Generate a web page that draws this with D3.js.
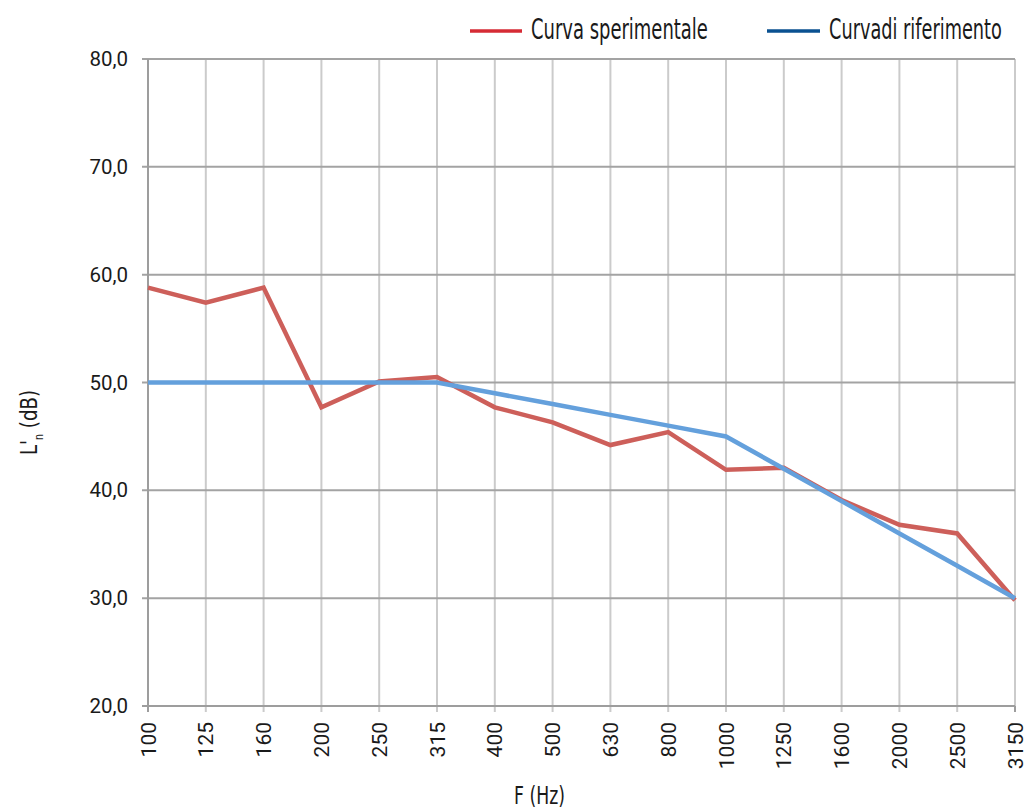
<!DOCTYPE html>
<html><head><meta charset="utf-8">
<script src="https://cdn.jsdelivr.net/npm/d3@7"></script>
<style>body{margin:0;background:#fff}svg{display:block}</style>
</head><body>
<script>
const categories = ["100","125","160","200","250","315","400","500","630","800","1000","1250","1600","2000","2500","3150"];
const sperimentale = [58.8,57.4,58.8,47.7,50.1,50.5,47.7,46.3,44.2,45.4,41.9,42.1,39.1,36.8,36.0,29.8];
const riferimento = [50,50,50,50,50,50,49,48,47,46,45,42,39,36,33,30];
const yTicks = [20,30,40,50,60,70,80];
const seriesNames = ["Curva sperimentale","Curvadi riferimento"];

const W=1029,H=812;
const m={l:148,r:1015,t:59,b:706};
const svg=d3.select("body").append("svg").attr("width",W).attr("height",H);
const x=d3.scalePoint().domain(categories).range([m.l,m.r]);
const y=d3.scaleLinear().domain([20,80]).range([m.b,m.t]);

// vertical grid
svg.append("g").selectAll("line").data(categories.slice(1)).join("line")
 .attr("x1",d=>x(d)).attr("x2",d=>x(d)).attr("y1",m.t).attr("y2",m.b+6)
 .attr("stroke","#cbcbcb").attr("stroke-width",2);
// horizontal grid
svg.append("g").selectAll("line").data(yTicks.slice(1)).join("line")
 .attr("x1",m.l-6).attr("x2",m.r).attr("y1",d=>y(d)).attr("y2",d=>y(d))
 .attr("stroke","#a3a3a3").attr("stroke-width",2);
// axes
svg.append("line").attr("x1",m.l).attr("x2",m.l).attr("y1",m.t).attr("y2",m.b+6).attr("stroke","#9d9d9d").attr("stroke-width",2);
svg.append("line").attr("x1",m.l-6).attr("x2",m.r).attr("y1",m.b).attr("y2",m.b).attr("stroke","#9d9d9d").attr("stroke-width",2);
svg.append("line").attr("x1",m.r).attr("x2",m.r).attr("y1",m.b).attr("y2",m.b+6).attr("stroke","#9d9d9d").attr("stroke-width",2);

// y tick labels
svg.append("g").selectAll("text").data(yTicks).join("text")
 .attr("x",128).attr("y",d=>y(d)+7).attr("text-anchor","end")
 .attr("font-family","Roboto").attr("font-size",20.5).attr("fill","#1a1a1a")
 .text(d=>d3.format(".1f")(d).replace(".",","));
// x tick labels
svg.append("g").selectAll("text").data(categories).join("text")
 .attr("transform",d=>`translate(${x(d)+7.5},722) rotate(-90)`)
 .attr("text-anchor","end").attr("font-family","Roboto").attr("font-size",21).attr("fill","#1a1a1a")
 .text(d=>d);

const line=d3.line().x((d,i)=>x(categories[i])).y(d=>y(d));
svg.append("path").datum(sperimentale).attr("d",line).attr("fill","none")
 .attr("stroke","#cd5f5a").attr("stroke-width",4.5).attr("stroke-linejoin","miter");
svg.append("path").datum(riferimento).attr("d",line).attr("fill","none")
 .attr("stroke","#64a0dc").attr("stroke-width",4.5);

const cf="'Liberation Sans Narrow','DejaVu Sans Condensed',Roboto,sans-serif";
function narrowText(sel, tx, ty, targetW, rot){
  const w = sel.node().getComputedTextLength();
  const s = targetW / w;
  sel.attr("transform", `translate(${tx},${ty})${rot?" rotate(-90)":""} scale(${s},1)`);
}
// legend
const leg=[{n:seriesNames[0],c:"#d62b35",x0:470,x1:522,tx:531,tw:177},{n:seriesNames[1],c:"#0a5191",x0:767,x1:820,tx:829,tw:173}];
leg.forEach(l=>{
 svg.append("line").attr("x1",l.x0).attr("x2",l.x1).attr("y1",31).attr("y2",31).attr("stroke",l.c).attr("stroke-width",3.5);
 const t=svg.append("text").attr("font-family",cf).attr("font-size",28).attr("fill","#1a1a1a").text(l.n);
 narrowText(t,l.tx,39,l.tw,false);
});
// axis titles
const xt=svg.append("text").attr("font-family",cf).attr("font-size",25).attr("fill","#1a1a1a").text("F (Hz)");
narrowText(xt,514,804,51,false);
const yt=svg.append("text").attr("font-family",cf).attr("font-size",23).attr("fill","#1a1a1a");
yt.append("tspan").text("L'");
yt.append("tspan").attr("font-size",12).attr("dy",6).text("n");
yt.append("tspan").attr("dy",-6).text(" (dB)");
narrowText(yt,37,455,65,true);
</script>
</body></html>
